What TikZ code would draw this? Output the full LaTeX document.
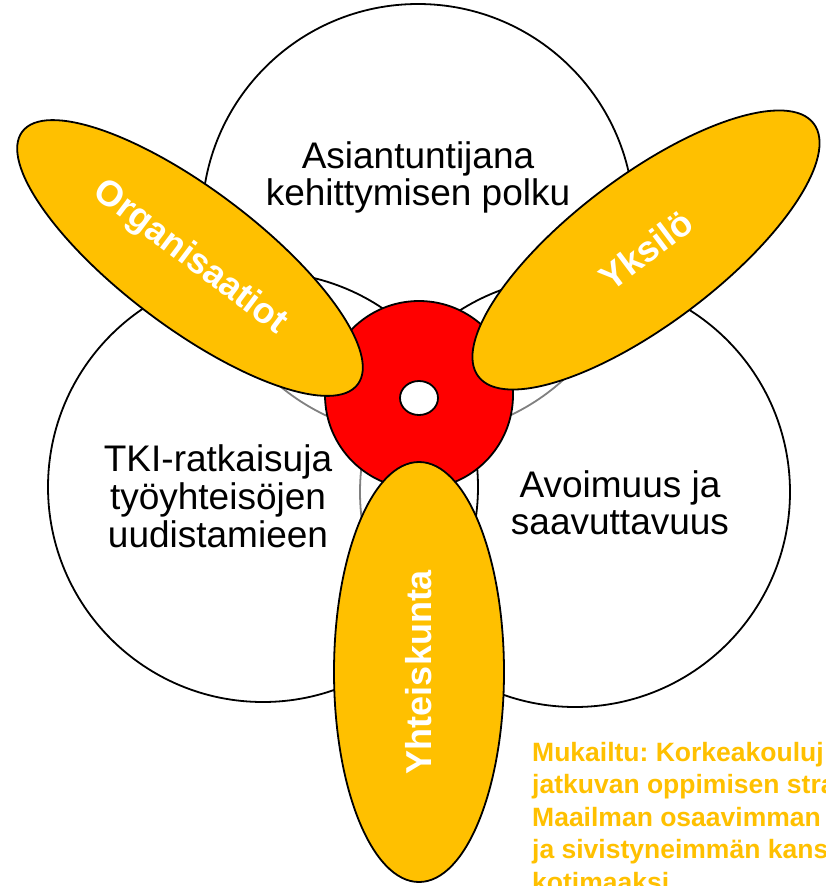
\documentclass[tikz,border=0pt]{standalone}
\usepackage{fontspec}
\setmainfont{Liberation Sans}
\usepackage{tikz}
\usetikzlibrary{
	shapes.geometric
}
\definecolor{kulta}{HTML}{FFC000}
\definecolor{punainen}{HTML}{FF0000}
\frenchspacing
\tikzset{
	alue/.style={circle,draw,line width=1.8pt,fill=white,fill opacity=0.5,minimum size=430pt,inner sep=0pt},
	lehti/.style={ellipse,draw,line width=1.8pt,fill=kulta,inner sep=0pt,minimum width=420pt,text=white,font=\bfseries\fontsize{36}{36}\selectfont},
	otsikko/.style={align=center,inner sep=0pt,font=\fontsize{37}{37}\selectfont}
}

\begin{document}
\begin{tikzpicture}[x=1pt,y=-1pt]
		\useasboundingbox (0,0) rectangle (825,886);
		\draw
			node[alue,minimum size=432pt] (polku) at (418,220) {}
			node[alue]                    (avoin) at (575,492) {}
			node[alue]                    (tki)   at (263,487) {}

			node[otsikko] (polkuteksti) at (418,177) {Asiantuntijana\\kehittymisen polku}
			node[otsikko,font=\fontsize{37}{38}\selectfont] (tkiteksti) at (218,496) {TKI-ratkaisuja\\työyhteisöjen\\uudistamieen}
			node[otsikko] (avointeksti) at (620,503) {Avoimuus ja\\saavuttavuus}

			node[circle,draw,line width=1.8pt,fill=punainen,minimum size=188pt] (ydin) at (419,395) {}
			node[ellipse,draw,line width=1.8pt,fill=white,inner sep=0pt,minimum width=38pt,minimum height=34pt] (reika) at (419,398) {}

			node[lehti,minimum height=138pt,rotate=-37] (organisaatiot) at (190,258) {Organisaatiot}
			node[lehti,minimum height=148pt,rotate=37]  (yksilo)        at (646,250) {Yksilö}
			node[lehti,minimum height=170pt,rotate=90]  (yhteiskunta)   at (419,672) {Yhteiskunta}

			node[anchor=north west,align=left,inner sep=0pt,text=kulta,font=\bfseries\fontsize{26.5}{32.5}\selectfont] (lahde) at (532,742)
				{Mukailtu: Korkeakouluj\\jatkuvan oppimisen stra\\Maailman osaavimman\\ja sivistyneimmän kans\\kotimaaksi}
		;
	\end{tikzpicture}
\end{document}
